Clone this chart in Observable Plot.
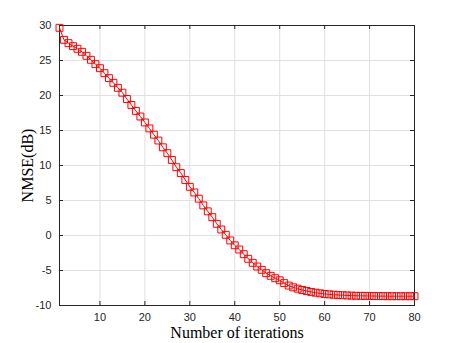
<!DOCTYPE html>
<html>
<head>
<meta charset="utf-8">
<script src="https://cdn.jsdelivr.net/npm/d3@7"></script>
<script src="https://cdn.jsdelivr.net/npm/@observablehq/plot@0.6"></script>
<style>
  html, body { margin: 0; padding: 0; background: #fff; }
  #chart svg { display: block; background: #fff; }
</style>
</head>
<body>
<div id="chart"></div>
<script>
// Data: NMSE (dB) versus iteration number
const iterations = d3.range(1, 81);
const nmse = [
  29.67, 27.95, 27.48, 27.05, 26.67, 26.24, 25.67, 25.10, 24.48, 23.90,
  23.19, 22.48, 21.81, 21.10, 20.40, 19.50, 18.65, 17.80, 17.00, 16.15,
  15.30, 14.40, 13.57, 12.60, 11.76, 10.80, 9.76, 8.92, 7.93, 6.95,
  6.15, 5.26, 4.30, 3.45, 2.62, 1.67, 0.86, 0.10, -0.71, -1.40,
  -2.00, -2.67, -3.33, -3.90, -4.43, -4.90, -5.38, -5.76, -6.10, -6.40,
  -6.80, -7.15, -7.40, -7.60, -7.78, -7.93, -8.06, -8.17, -8.26, -8.35,
  -8.41, -8.46, -8.50, -8.53, -8.56, -8.59, -8.61, -8.62, -8.63, -8.64,
  -8.65, -8.66, -8.66, -8.67, -8.67, -8.67, -8.67, -8.67, -8.67, -8.67
];
const xTicks = [10, 20, 30, 40, 50, 60, 70, 80];
const yTicks = [-10, -5, 0, 5, 10, 15, 20, 25, 30];
const xLabel = "Number of iterations";
const yLabel = "NMSE(dB)";

const table = iterations.map((it, i) => ({it, v: nmse[i]}));

const W = 457, H = 343;
const mL = 59, mR = 43, mT = 25, mB = 38;
const plotW = W - mL - mR, plotH = H - mT - mB;
const axisColor = "#262626";
const gridColor = "#e0e0e0";
const tickLen = 4;
const serif = "'Liberation Serif', 'Times New Roman', serif";
const fmt = d => `${d}`;

const chart = Plot.plot({
  width: W,
  height: H,
  marginLeft: mL,
  marginRight: mR,
  marginTop: mT,
  marginBottom: mB,
  style: {fontFamily: "'Liberation Sans', Arial, sans-serif", fontSize: "11px", color: axisColor, background: "#fff"},
  x: {domain: [1, 80]},
  y: {domain: [-10, 30]},
  marks: [
    Plot.gridX(xTicks, {stroke: gridColor, strokeOpacity: 1}),
    Plot.gridY(yTicks, {stroke: gridColor, strokeOpacity: 1}),
    Plot.axisX(xTicks, {tickSize: 0, tickPadding: 8, label: null, tickFormat: fmt, fill: axisColor, fontSize: 11}),
    Plot.axisY(yTicks, {tickSize: 0, tickPadding: 8, label: null, tickFormat: fmt, fill: axisColor, fontSize: 11}),
    // inward ticks (MATLAB style): bottom, top, left, right
    Plot.tickX(xTicks, {x: d => d, stroke: axisColor, insetTop: plotH - tickLen}),
    Plot.tickX(xTicks, {x: d => d, stroke: axisColor, insetBottom: plotH - tickLen}),
    Plot.tickY(yTicks, {y: d => d, stroke: axisColor, insetRight: plotW - tickLen}),
    Plot.tickY(yTicks, {y: d => d, stroke: axisColor, insetLeft: plotW - tickLen}),
    Plot.frame({stroke: axisColor, strokeWidth: 1}),
    Plot.line(table, {x: "it", y: "v", stroke: "#ff0000", strokeWidth: 1}),
    Plot.dot(table, {x: "it", y: "v", symbol: "square", r: 3.9, stroke: "#ff0000", strokeWidth: 1, fill: "none"}),
    Plot.text([yLabel], {frameAnchor: "left", textAnchor: "middle", lineAnchor: "middle", dx: -32, rotate: -90, fontFamily: serif, fontSize: 16, fill: "#000"}),
    Plot.text([xLabel], {frameAnchor: "bottom", textAnchor: "middle", lineAnchor: "middle", dy: 27, fontFamily: serif, fontSize: 16, fill: "#000"})
  ]
});
document.getElementById("chart").appendChild(chart);
</script>
</body>
</html>
